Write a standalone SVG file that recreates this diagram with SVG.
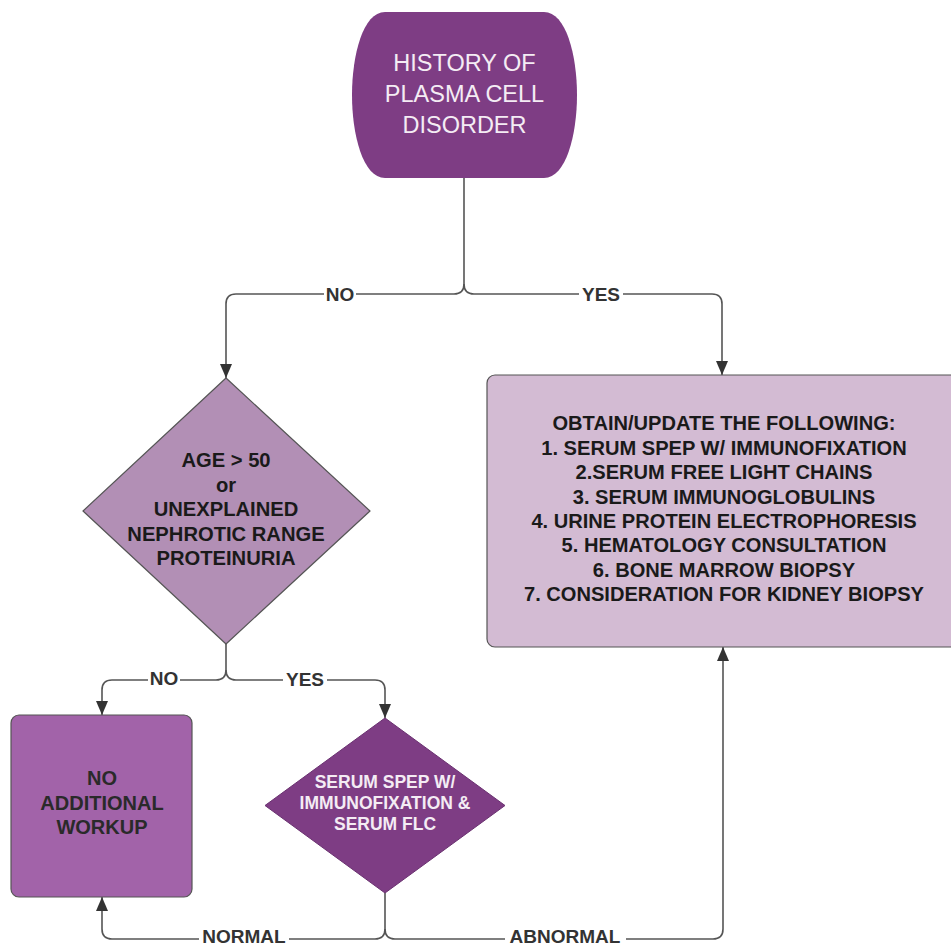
<svg xmlns="http://www.w3.org/2000/svg" width="951" height="946" viewBox="0 0 951 946">
<style>
.conn{fill:none;stroke:#555;stroke-width:1.6}
.lbl{font-family:"Liberation Sans",Arial,sans-serif;font-weight:bold;font-size:19px;fill:#333;text-anchor:middle}
.lblbg{fill:#fff}
.t{font-family:"Liberation Sans",Arial,sans-serif;text-anchor:middle}
.b{font-weight:bold}
</style>
<defs>
<marker id="ah" viewBox="0 0 14 12" refX="14" refY="6" markerWidth="14" markerHeight="12" orient="auto" markerUnits="userSpaceOnUse">
<path d="M0,0 L14,6 L0,12 Z" fill="#333"/>
</marker>
</defs>
<rect width="951" height="946" fill="#fff"/>

<g id="connectors">
<path class="conn" d="M464,178 V284 Q464,294 454,294 H236 Q226,294 226,304 V378" marker-end="url(#ah)"/>
<path class="conn" d="M464,284 Q464,294 474,294 H712 Q722,294 722,304 V375" marker-end="url(#ah)"/>
<path class="conn" d="M226,644 V670 Q226,680 216,680 H112 Q102,680 102,690 V715" marker-end="url(#ah)"/>
<path class="conn" d="M226,670 Q226,680 236,680 H375 Q385,680 385,690 V718" marker-end="url(#ah)"/>
<path class="conn" d="M385,893 V929 Q385,939 375,939 H112 Q102,939 102,929 V897" marker-end="url(#ah)"/>
<path class="conn" d="M385,929 Q385,939 395,939 H713 Q723,939 723,929 V647" marker-end="url(#ah)"/>
<rect class="lblbg" x="324" y="284" width="32" height="20"/>
<text class="lbl" x="340" y="301">NO</text>
<rect class="lblbg" x="579" y="284" width="44" height="20"/>
<text class="lbl" x="601" y="301">YES</text>
<rect class="lblbg" x="148" y="670" width="32" height="20"/>
<text class="lbl" x="164" y="685">NO</text>
<rect class="lblbg" x="283" y="670" width="44" height="20"/>
<text class="lbl" x="305" y="686">YES</text>
<rect class="lblbg" x="199" y="929" width="90" height="17"/>
<text class="lbl" x="244" y="943">NORMAL</text>
<rect class="lblbg" x="505" y="928" width="121" height="18"/>
<text class="lbl" x="565" y="943">ABNORMAL</text>
</g>

<g id="history">
<path d="M385,12 L544,12 C566,12 577,55 577,95 C577,135 566,178 544,178 L385,178 C363,178 352,135 352,95 C352,55 363,12 385,12 Z" fill="#7e3d84"/>
<text class="t" font-size="23.5" fill="#f4ecf4" x="464.5" y="71">HISTORY OF</text>
<text class="t" font-size="23.5" fill="#f4ecf4" x="464.5" y="102">PLASMA CELL</text>
<text class="t" font-size="23.5" fill="#f4ecf4" x="464.5" y="133">DISORDER</text>
</g>

<g id="age-decision">
<polygon points="226,378 370,511 226,644 83,511" fill="#b28fb5" stroke="#555" stroke-width="1.2" stroke-linejoin="round"/>
<text class="t b" font-size="20.2" fill="#1a1a1a" x="226" y="467">AGE &gt; 50</text>
<text class="t b" font-size="20.2" fill="#1a1a1a" x="226" y="491.5">or</text>
<text class="t b" font-size="20.2" fill="#1a1a1a" x="226" y="516">UNEXPLAINED</text>
<text class="t b" font-size="20.2" fill="#1a1a1a" x="226" y="540.5">NEPHROTIC RANGE</text>
<text class="t b" font-size="20.2" fill="#1a1a1a" x="226" y="565">PROTEINURIA</text>
</g>

<g id="obtain-box">
<rect x="487" y="375" width="475" height="272" rx="8" fill="#d3bbd3" stroke="#555" stroke-width="1.2"/>
<text class="t b" font-size="20.1" fill="#1a1a1a" x="724" y="430">OBTAIN/UPDATE THE FOLLOWING:</text>
<text class="t b" font-size="20.1" fill="#1a1a1a" x="724" y="454.5">1. SERUM SPEP W/ IMMUNOFIXATION</text>
<text class="t b" font-size="20.1" fill="#1a1a1a" x="724" y="479">2.SERUM FREE LIGHT CHAINS</text>
<text class="t b" font-size="20.1" fill="#1a1a1a" x="724" y="503.5">3. SERUM IMMUNOGLOBULINS</text>
<text class="t b" font-size="20.1" fill="#1a1a1a" x="724" y="528">4. URINE PROTEIN ELECTROPHORESIS</text>
<text class="t b" font-size="20.1" fill="#1a1a1a" x="724" y="552">5. HEMATOLOGY CONSULTATION</text>
<text class="t b" font-size="20.1" fill="#1a1a1a" x="724" y="576.5">6. BONE MARROW BIOPSY</text>
<text class="t b" font-size="20.1" fill="#1a1a1a" x="724" y="601">7. CONSIDERATION FOR KIDNEY BIOPSY</text>
</g>

<g id="no-workup">
<rect x="11" y="715" width="181" height="182" rx="8" fill="#a263a9" stroke="#555" stroke-width="1.2"/>
<text class="t b" font-size="20" fill="#2a2a2a" x="102" y="785">NO</text>
<text class="t b" font-size="20" fill="#2a2a2a" x="102" y="810">ADDITIONAL</text>
<text class="t b" font-size="20" fill="#2a2a2a" x="102" y="834">WORKUP</text>
</g>

<g id="serum-decision">
<polygon points="385,718 505,805.5 385,893 265,805.5" fill="#7e3d84" stroke="#6a3170" stroke-width="1" stroke-linejoin="round"/>
<text class="t b" font-size="17.5" fill="#f4ecf4" x="385" y="788">SERUM SPEP W/</text>
<text class="t b" font-size="17.5" fill="#f4ecf4" x="385" y="809">IMMUNOFIXATION &amp;</text>
<text class="t b" font-size="17.5" fill="#f4ecf4" x="385" y="830">SERUM FLC</text>
</g>
</svg>
